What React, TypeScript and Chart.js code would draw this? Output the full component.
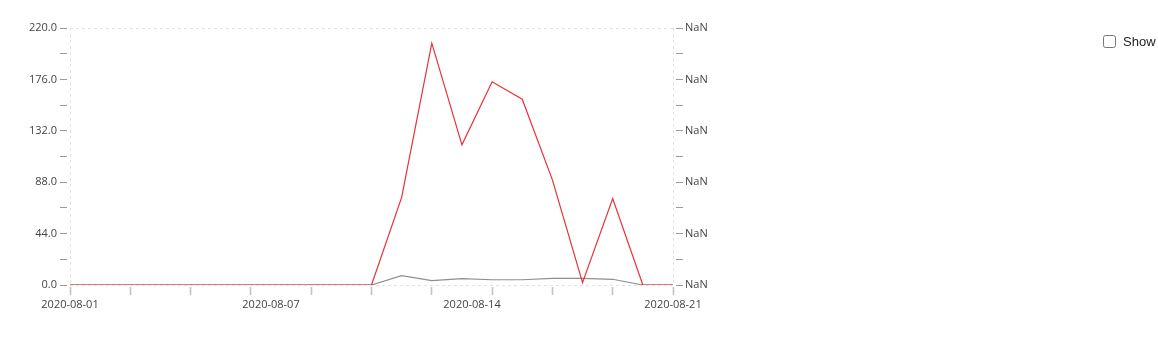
import React, { useEffect, useRef } from "react";
import { Chart, registerables } from "chart.js";

Chart.register(...registerables);

const startDate = "2020-08-01";
const dayIndex = [0, 1, 2, 3, 4, 5, 6, 7, 8, 9, 10, 11, 12, 13, 14, 15, 16, 17, 18, 19, 20];
const redValues = [0, 0, 0, 0, 0, 0, 0, 0, 0, 0, 0, 75, 207, 120, 174, 159, 90, 2, 74, 0, 0];
const grayValues = [0, 0, 0, 0, 0, 0, 0, 0, 0, 0, 0, 8, 3.7, 5.4, 4.5, 4.5, 5.7, 5.7, 4.9, 0, 0];
const yMax = 220;
const yStep = 22;
const xLabelPositions = [0, 20 / 3, 40 / 3, 20];

function dateLabel(v: number): string {
  const d = new Date(startDate + "T00:00:00Z");
  d.setUTCDate(d.getUTCDate() + Math.floor(v + 1e-9));
  return d.toISOString().slice(0, 10);
}

const FONT = "'Open Sans', 'Noto Sans', sans-serif";

export default function App() {
  const ref = useRef<HTMLCanvasElement>(null);
  useEffect(() => {
    if (!ref.current) return;
    const edgeColor = (ctx: any) => {
      const s = ctx.scale;
      const v = ctx.tick ? ctx.tick.value : null;
      return v === s.min || v === s.max ? "#e2e2e2" : "rgba(0,0,0,0)";
    };
    const yTicks = (s: any) => {
      const t = [];
      for (let v = 0; v <= yMax + 1e-6; v += yStep) t.push({ value: v });
      s.ticks = t;
    };
    const chart = new Chart(ref.current, {
      type: "line",
      data: {
        datasets: [
          {
            label: "red",
            data: dayIndex.map((x, i) => ({ x, y: redValues[i] })),
            borderColor: "rgba(232,30,36,0.92)",
            borderWidth: 1.2,
            pointRadius: 0,
            tension: 0,
            xAxisID: "x",
            yAxisID: "y",
          },
          {
            label: "gray",
            data: dayIndex.map((x, i) => ({ x, y: grayValues[i] })),
            borderColor: "rgba(105,105,105,0.75)",
            borderWidth: 1.2,
            pointRadius: 0,
            tension: 0,
            xAxisID: "x",
            yAxisID: "y",
          },
        ],
      },
      options: {
        animation: false,
        responsive: false,
        maintainAspectRatio: false,
        layout: { padding: { top: 20, left: 0, right: 0, bottom: 0 } },
        plugins: { legend: { display: false }, tooltip: { enabled: false } },
        scales: {
          x: {
            type: "linear",
            position: "bottom",
            min: 0,
            max: 20,
            weight: 0,
            afterBuildTicks: (s: any) => {
              s.ticks = dayIndex.filter((d) => d % 2 === 0).map((v) => ({ value: v }));
            },
            afterFit: (s: any) => {
              s.height = 10;
            },
            ticks: { display: false },
            border: { display: false, dash: [3, 3] },
            grid: {
              color: edgeColor,
              lineWidth: 1,
              drawTicks: true,
              tickLength: 10,
              tickColor: "#c4c4c4",
              tickWidth: 1.6,
              tickBorderDash: [0, 2, 8, 30],
            },
          },
          x2: {
            type: "linear",
            position: "bottom",
            min: 0,
            max: 20,
            weight: 1,
            afterBuildTicks: (s: any) => {
              s.ticks = xLabelPositions.map((v) => ({ value: v }));
            },
            afterFit: (s: any) => {
              s.height = 43;
            },
            border: { display: false },
            grid: { display: false, drawTicks: false },
            ticks: {
              autoSkip: false,
              maxRotation: 0,
              padding: 3,
              color: "#444",
              font: { family: FONT, size: 11 },
              callback: (v: any) => dateLabel(Number(v)),
            },
          },
          y: {
            type: "linear",
            position: "left",
            min: 0,
            max: yMax,
            afterBuildTicks: yTicks,
            afterFit: (s: any) => {
              s.width = 62;
            },
            border: { display: false, dash: [3, 3] },
            grid: {
              color: edgeColor,
              drawTicks: true,
              tickLength: 10,
              tickColor: "#9a9a9a",
              tickWidth: 1,
              tickBorderDash: [7, 30],
            },
            ticks: {
              autoSkip: false,
              padding: 3,
              color: "#444",
              font: { family: FONT, size: 11 },
              callback: (v: any) => {
                const n = Number(v);
                return Math.round(n / yStep) % 2 === 0 ? n.toFixed(1) : "";
              },
            },
          },
          y2: {
            type: "linear",
            position: "right",
            min: 0,
            max: yMax,
            afterBuildTicks: yTicks,
            afterFit: (s: any) => {
              s.width = 55;
            },
            border: { display: false, dash: [3, 3] },
            grid: {
              color: edgeColor,
              drawOnChartArea: true,
              drawTicks: true,
              tickLength: 10,
              tickColor: "#9a9a9a",
              tickWidth: 1,
              tickBorderDash: [0, 3, 7, 30],
            },
            ticks: {
              autoSkip: false,
              padding: 2,
              color: "#444",
              font: { family: FONT, size: 11 },
              callback: (v: any) => {
                const n = Number(v);
                return Math.round(n / yStep) % 2 === 0 ? "NaN" : "";
              },
            },
          },
        },
      },
    } as any);
    return () => chart.destroy();
  }, []);

  return (
    <div style={{ position: "relative", width: 720, height: 330 }}>
      <canvas ref={ref} width={720} height={330} style={{ display: "block" }} />
      <label
        style={{
          position: "fixed",
          left: 1103,
          top: 34,
          width: 60,
          fontFamily: "'Liberation Sans', Arial, sans-serif",
          fontSize: 13,
          color: "#222",
          display: "flex",
          alignItems: "center",
          whiteSpace: "nowrap",
        }}
      >
        <input type="checkbox" style={{ margin: "0 7px 0 0", width: 13, height: 13, flex: "none" }} />
        <span>Show</span>
      </label>
    </div>
  );
}
